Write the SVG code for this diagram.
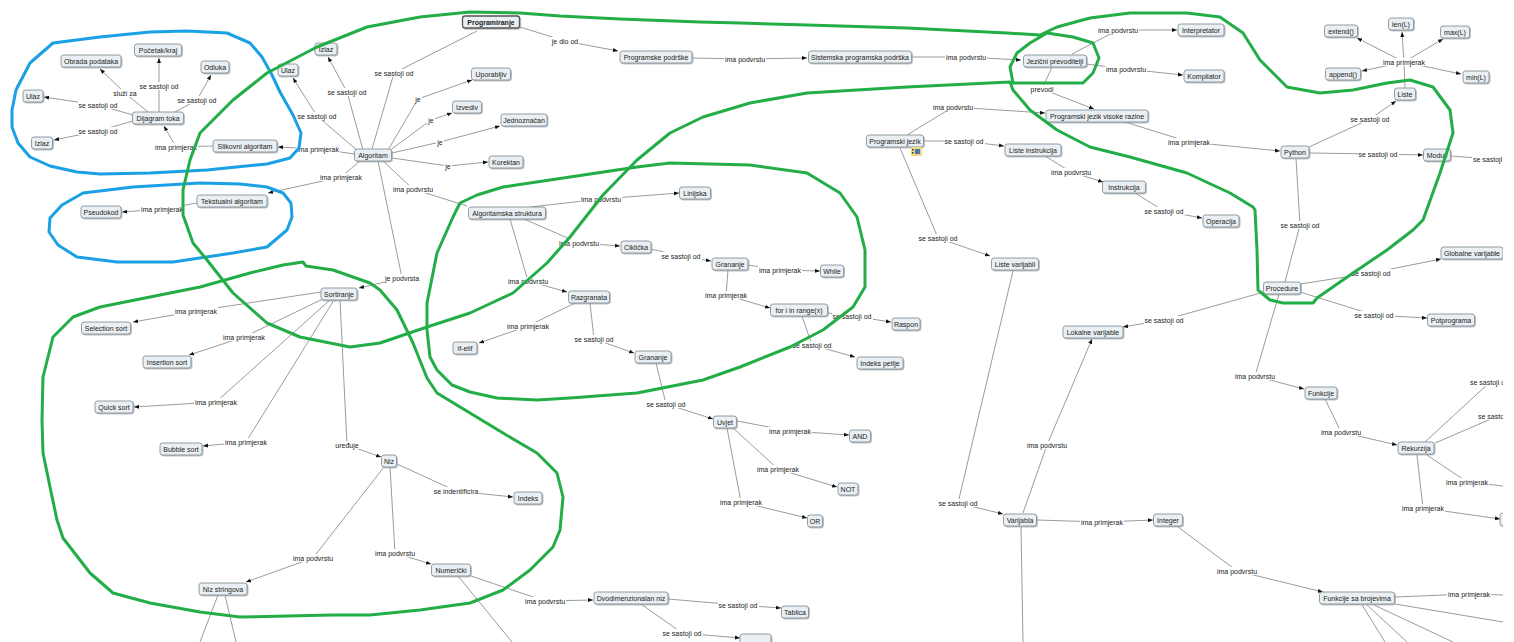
<svg xmlns="http://www.w3.org/2000/svg" width="1514" height="642" viewBox="0 0 1514 642">
<style>
  .n rect { fill: #e9eff2; stroke: #87929a; stroke-width: 0.9; filter: url(#sh); }
  .n text, .lb text { font-family: "Liberation Sans", Arial, sans-serif; font-size: 7px; fill: #222; text-anchor: middle; }
  .lb rect { fill: #fff; }
  .ln path { fill: none; stroke: #707070; stroke-width: 0.7; }
  .ln path.a { marker-end: url(#ah); }
  .loop { fill: none; stroke-width: 3; stroke-linejoin: round; stroke-linecap: round; }
  .g { stroke: #22ad47; }
  .b { stroke: #1aa0e4; }
  .bold text { font-weight: bold; }
  .bold rect { stroke: #555; stroke-width: 1.3; }
</style>
<defs>
  <marker id="ah" viewBox="0 0 10 10" refX="10" refY="5" markerWidth="5" markerHeight="5" orient="auto" markerUnits="userSpaceOnUse">
    <path d="M0,1 L10,5 L0,9 z" fill="#111"/>
  </marker>
  <filter id="sh" x="-10%" y="-20%" width="130%" height="160%">
    <feDropShadow dx="1" dy="1" stdDeviation="0.6" flood-color="#9aa0a4" flood-opacity="0.7"/>
  </filter>
  <clipPath id="frame"><rect x="0" y="0" width="1503" height="642"/></clipPath>
</defs>
<rect width="1514" height="642" fill="#fff"/>
<g clip-path="url(#frame)">

<g id="connectors">
 <g class="ln">
  <path d="M477,31 L394,73 L372,149"/>
  <path class="a" d="M520,27 L565,41 L618,51"/>
  <path class="a" d="M692,58 L745,59 L807,58"/>
  <path class="a" d="M912,57 L966,57 L1021,60"/>
  <path class="a" d="M1072,54 L1118,30 L1177,30"/>
  <path class="a" d="M1086,64 L1126,69 L1183,75"/>
  <path class="a" d="M1052,67 L1042,89 L1094,109"/>
  <path class="a" d="M907,135 L953,107 L1045,113"/>
  <path class="a" d="M923,141 L964,141 L1004,146"/>
  <path class="a" d="M1045,156 L1071,172 L1103,182"/>
  <path class="a" d="M1135,193 L1164,211 L1202,218"/>
  <path class="a" d="M1125,122 L1189,142 L1280,151"/>
  <path class="a" d="M1309,147 L1370,119 L1396,101"/>
  <path class="a" d="M1309,153 L1378,154 L1423,155"/>
  <path d="M1451,156 L1492,159"/>
  <path d="M1405,88 L1404,62"/>
  <path class="a" d="M1404,62 L1357,38"/>
  <path class="a" d="M1404,62 L1402,32"/>
  <path class="a" d="M1404,62 L1443,39"/>
  <path class="a" d="M1404,62 L1362,71"/>
  <path class="a" d="M1404,62 L1461,74"/>
  <path d="M1296,159 L1300,225 L1285,282"/>
  <path class="a" d="M1300,284 L1371,273 L1441,259"/>
  <path class="a" d="M1300,292 L1374,315 L1427,318"/>
  <path class="a" d="M1264,292 L1164,320 L1123,327"/>
  <path class="a" d="M1279,294 L1255,376 L1304,389"/>
  <path class="a" d="M1325,399 L1341,432 L1397,445"/>
  <path d="M1425,442 L1490,382"/>
  <path d="M1435,443 L1498,416"/>
  <path d="M1427,455 L1467,482 L1503,486"/>
  <path class="a" d="M1417,455 L1423,508 L1500,519"/>
  <path class="a" d="M900,148 L938,238 L990,256"/>
  <path class="a" d="M1013,271 L958,503 L1003,514"/>
  <path class="a" d="M1023,513 L1047,445 L1092,339"/>
  <path class="a" d="M1037,520 L1102,522 L1153,520"/>
  <path d="M1021,527 L1023,642"/>
  <path class="a" d="M1178,527 L1237,571 L1323,592"/>
  <path d="M1395,597 L1469,594 L1503,595"/>
  <path d="M1395,604 L1503,622 M1362,605 L1385,642 M1367,605 L1407,642 M1374,605 L1453,642"/>
  <path class="a" d="M363,150 L347,92 L328,57"/>
  <path class="a" d="M358,151 L317,116 L293,78"/>
  <path class="a" d="M355,154 L318,149 L278,147"/>
  <path class="a" d="M360,161 L341,177 L268,193"/>
  <path class="a" d="M213,146 L176,147 L164,126"/>
  <path class="a" d="M148,112 L125,93 L100,69"/>
  <path class="a" d="M159,112 L159,86 L159,58"/>
  <path class="a" d="M175,112 L197,100 L211,75"/>
  <path class="a" d="M133,115 L98,105 L44,97"/>
  <path class="a" d="M133,121 L98,131 L54,140"/>
  <path class="a" d="M197,203 L162,209 L122,212"/>
  <path class="a" d="M388,150 L418,99 L472,80"/>
  <path class="a" d="M389,151 L431,120 L452,113"/>
  <path class="a" d="M392,153 L440,142 L500,126"/>
  <path class="a" d="M392,158 L448,166 L488,162"/>
  <path d="M383,161 L413,189 L467,206"/>
  <path class="a" d="M378,161 L402,278 L359,288"/>
  <path class="a" d="M530,207 L601,199 L679,193"/>
  <path class="a" d="M524,219 L579,243 L620,246"/>
  <path class="a" d="M510,219 L528,281 L567,292"/>
  <path class="a" d="M651,249 L681,256 L711,261"/>
  <path class="a" d="M748,265 L780,270 L820,271"/>
  <path class="a" d="M728,270 L726,295 L770,308"/>
  <path class="a" d="M828,313 L852,316 L891,322"/>
  <path class="a" d="M802,316 L812,345 L855,357"/>
  <path class="a" d="M575,303 L528,326 L479,343"/>
  <path class="a" d="M590,303 L594,339 L634,353"/>
  <path class="a" d="M656,363 L666,404 L713,419"/>
  <path class="a" d="M737,421 L790,431 L849,435"/>
  <path class="a" d="M733,428 L778,469 L837,487"/>
  <path class="a" d="M727,428 L741,502 L807,518"/>
  <path class="a" d="M321,292 L196,311 L133,322"/>
  <path class="a" d="M325,298 L244,337 L189,355"/>
  <path class="a" d="M330,300 L216,402 L134,407"/>
  <path class="a" d="M334,300 L246,442 L203,446"/>
  <path class="a" d="M340,300 L347,445 L381,457"/>
  <path class="a" d="M397,464 L456,491 L513,497"/>
  <path class="a" d="M384,467 L313,558 L246,582"/>
  <path class="a" d="M390,467 L395,553 L431,564"/>
  <path class="a" d="M471,576 L545,601 L593,600"/>
  <path d="M458,576 L512,642"/>
  <path class="a" d="M668,599 L738,605 L781,608"/>
  <path class="a" d="M641,604 L682,633 L740,638"/>
  <path d="M218,595 L200,642 M225,595 L236,642"/>
 </g>
 <g class="lb">
  <rect x="374" y="69" width="41" height="8"/><text x="394" y="75.5">se sastoji od</text>
  <rect x="551" y="37" width="28" height="8"/><text x="565" y="43.5">je dio od</text>
  <rect x="724" y="55" width="42" height="8"/><text x="745" y="61.5">ima podvrstu</text>
  <rect x="945" y="53" width="42" height="8"/><text x="966" y="59.5">ima podvrstu</text>
  <rect x="1097" y="26" width="42" height="8"/><text x="1118" y="32.5">ima podvrstu</text>
  <rect x="1105" y="65" width="42" height="8"/><text x="1126" y="71.5">ima podvrstu</text>
  <rect x="1030" y="85" width="24" height="8"/><text x="1042" y="91.5">prevodi</text>
  <rect x="932" y="103" width="42" height="8"/><text x="953" y="109.5">ima podvrstu</text>
  <rect x="944" y="137" width="41" height="8"/><text x="964" y="143.5">se sastoji od</text>
  <rect x="1050" y="168" width="42" height="8"/><text x="1071" y="174.5">ima podvrstu</text>
  <rect x="1144" y="207" width="41" height="8"/><text x="1164" y="213.5">se sastoji od</text>
  <rect x="1167" y="138" width="44" height="8"/><text x="1189" y="144.5">ima primjerak</text>
  <rect x="1350" y="115" width="41" height="8"/><text x="1370" y="121.5">se sastoji od</text>
  <rect x="1358" y="150" width="41" height="8"/><text x="1378" y="156.5">se sastoji od</text>
  <rect x="1472" y="155" width="41" height="8"/><text x="1492.5" y="161.5">se sastoji od</text>
  <rect x="1382" y="58" width="44" height="8"/><text x="1404" y="64.5">ima primjerak</text>
  <rect x="1280" y="221" width="41" height="8"/><text x="1300" y="227.5">se sastoji od</text>
  <rect x="1351" y="269" width="41" height="8"/><text x="1371" y="275.5">se sastoji od</text>
  <rect x="1354" y="311" width="41" height="8"/><text x="1374" y="317.5">se sastoji od</text>
  <rect x="1144" y="316" width="41" height="8"/><text x="1164" y="322.5">se sastoji od</text>
  <rect x="1234" y="372" width="42" height="8"/><text x="1255" y="378.5">ima podvrstu</text>
  <rect x="1320" y="428" width="42" height="8"/><text x="1341" y="434.5">ima podvrstu</text>
  <rect x="1469" y="378" width="41" height="8"/><text x="1489.5" y="384.5">se sastoji od</text>
  <rect x="1477" y="412" width="41" height="8"/><text x="1497.5" y="418.5">se sastoji od</text>
  <rect x="1445" y="478" width="44" height="8"/><text x="1467" y="484.5">ima primjerak</text>
  <rect x="1401" y="504" width="44" height="8"/><text x="1423" y="510.5">ima primjerak</text>
  <rect x="918" y="234" width="41" height="8"/><text x="938" y="240.5">se sastoji od</text>
  <rect x="938" y="499" width="41" height="8"/><text x="958" y="505.5">se sastoji od</text>
  <rect x="1026" y="441" width="42" height="8"/><text x="1047" y="447.5">ima podvrstu</text>
  <rect x="1080" y="518" width="44" height="8"/><text x="1102" y="524.5">ima primjerak</text>
  <rect x="1216" y="567" width="42" height="8"/><text x="1237" y="573.5">ima podvrstu</text>
  <rect x="1447" y="590" width="44" height="8"/><text x="1469" y="596.5">ima primjerak</text>
  <rect x="327" y="88" width="41" height="8"/><text x="347" y="94.5">se sastoji od</text>
  <rect x="297" y="112" width="41" height="8"/><text x="317" y="118.5">se sastoji od</text>
  <rect x="296" y="145" width="44" height="8"/><text x="318" y="151.5">ima primjerak</text>
  <rect x="319" y="173" width="44" height="8"/><text x="341" y="179.5">ima primjerak</text>
  <rect x="154" y="143" width="44" height="8"/><text x="176" y="149.5">ima primjerak</text>
  <rect x="113" y="89" width="24" height="8"/><text x="125" y="95.5">služi za</text>
  <rect x="139" y="82" width="41" height="8"/><text x="159" y="88.5">se sastoji od</text>
  <rect x="177" y="96" width="41" height="8"/><text x="197" y="102.5">se sastoji od</text>
  <rect x="78" y="101" width="41" height="8"/><text x="98" y="107.5">se sastoji od</text>
  <rect x="78" y="127" width="41" height="8"/><text x="98" y="133.5">se sastoji od</text>
  <rect x="140" y="205" width="44" height="8"/><text x="162" y="211.5">ima primjerak</text>
  <rect x="414" y="95" width="8" height="8"/><text x="418" y="101.5">je</text>
  <rect x="427" y="116" width="8" height="8"/><text x="431" y="122.5">je</text>
  <rect x="436" y="138" width="8" height="8"/><text x="440" y="144.5">je</text>
  <rect x="444" y="162" width="8" height="8"/><text x="448" y="168.5">je</text>
  <rect x="392" y="185" width="42" height="8"/><text x="413" y="191.5">ima podvrstu</text>
  <rect x="384" y="274" width="36" height="8"/><text x="402" y="280.5">je podvrsta</text>
  <rect x="580" y="195" width="42" height="8"/><text x="601" y="201.5">ima podvrstu</text>
  <rect x="558" y="239" width="42" height="8"/><text x="579" y="245.5">ima podvrstu</text>
  <rect x="507" y="277" width="42" height="8"/><text x="528" y="283.5">ima podvrstu</text>
  <rect x="661" y="252" width="41" height="8"/><text x="681" y="258.5">se sastoji od</text>
  <rect x="758" y="266" width="44" height="8"/><text x="780" y="272.5">ima primjerak</text>
  <rect x="704" y="291" width="44" height="8"/><text x="726" y="297.5">ima primjerak</text>
  <rect x="832" y="312" width="41" height="8"/><text x="852" y="318.5">se sastoji od</text>
  <rect x="792" y="341" width="41" height="8"/><text x="812" y="347.5">se sastoji od</text>
  <rect x="506" y="322" width="44" height="8"/><text x="528" y="328.5">ima primjerak</text>
  <rect x="574" y="335" width="41" height="8"/><text x="594" y="341.5">se sastoji od</text>
  <rect x="646" y="400" width="41" height="8"/><text x="666" y="406.5">se sastoji od</text>
  <rect x="768" y="427" width="44" height="8"/><text x="790" y="433.5">ima primjerak</text>
  <rect x="756" y="465" width="44" height="8"/><text x="778" y="471.5">ima primjerak</text>
  <rect x="719" y="498" width="44" height="8"/><text x="741" y="504.5">ima primjerak</text>
  <rect x="174" y="307" width="44" height="8"/><text x="196" y="313.5">ima primjerak</text>
  <rect x="222" y="333" width="44" height="8"/><text x="244" y="339.5">ima primjerak</text>
  <rect x="194" y="398" width="44" height="8"/><text x="216" y="404.5">ima primjerak</text>
  <rect x="224" y="438" width="44" height="8"/><text x="246" y="444.5">ima primjerak</text>
  <rect x="335" y="441" width="24" height="8"/><text x="347" y="447.5">uređuje</text>
  <rect x="433" y="487" width="46" height="8"/><text x="456" y="493.5">se indentificira</text>
  <rect x="292" y="554" width="42" height="8"/><text x="313" y="560.5">ima podvrstu</text>
  <rect x="374" y="549" width="42" height="8"/><text x="395" y="555.5">ima podvrstu</text>
  <rect x="524" y="597" width="42" height="8"/><text x="545" y="603.5">ima podvrstu</text>
  <rect x="718" y="601" width="41" height="8"/><text x="738" y="607.5">se sastoji od</text>
  <rect x="662" y="629" width="41" height="8"/><text x="682" y="635.5">se sastoji od</text>
 </g>
</g>

<g id="nodes">
 <g id="n-programiranje" class="n bold"><rect x="462.5" y="16" width="57" height="12" rx="2.5"/><text x="491" y="24.5">Programiranje</text></g>
 <g id="n-programske" class="n"><rect x="620" y="51" width="72" height="12" rx="2.5"/><text x="656" y="59.5">Programske podrške</text></g>
 <g id="n-sistemska" class="n"><rect x="808.5" y="51" width="103" height="12" rx="2.5"/><text x="860" y="59.5">Sistemska programska podrška</text></g>
 <g id="n-jezicni" class="n"><rect x="1023.5" y="55" width="63" height="12" rx="2.5"/><text x="1055" y="63.5">Jezični prevoditelji</text></g>
 <g id="n-interpretator" class="n"><rect x="1178" y="24" width="46" height="12" rx="2.5"/><text x="1201" y="32.5">Interpretator</text></g>
 <g id="n-kompilator" class="n"><rect x="1184" y="70" width="40" height="12" rx="2.5"/><text x="1204" y="78.5">Kompilator</text></g>
 <g id="n-pjvr" class="n"><rect x="1046" y="110" width="102" height="12" rx="2.5"/><text x="1097" y="118.5">Programski jezik visoke razine</text></g>
 <g id="n-pj" class="n"><rect x="866.5" y="135" width="57" height="12" rx="2.5"/><text x="895" y="143.5">Programski jezik</text>
  <rect x="911" y="147" width="11" height="9" rx="1" style="fill:#f3d77c;stroke:none;filter:none"/><rect x="915" y="149" width="5" height="5" style="fill:#4a78b8;stroke:none;filter:none"/><rect x="912" y="149" width="1.5" height="1.5" style="fill:#333;stroke:none;filter:none"/><rect x="912" y="152" width="1.5" height="1.5" style="fill:#333;stroke:none;filter:none"/></g>
 <g id="n-listeinstr" class="n"><rect x="1005" y="144" width="56" height="12" rx="2.5"/><text x="1033" y="152.5">Liste instrukcija</text></g>
 <g id="n-instrukcija" class="n"><rect x="1102.5" y="181" width="43" height="12" rx="2.5"/><text x="1124" y="189.5">Instrukcija</text></g>
 <g id="n-operacija" class="n"><rect x="1203" y="215" width="36" height="12" rx="2.5"/><text x="1221" y="223.5">Operacija</text></g>
 <g id="n-python" class="n"><rect x="1281" y="146" width="28" height="12" rx="2.5"/><text x="1295" y="154.5">Python</text></g>
 <g id="n-moduli" class="n"><rect x="1423.5" y="149" width="27" height="12" rx="2.5"/><text x="1437" y="157.5">Moduli</text></g>
 <g id="n-liste" class="n"><rect x="1394.5" y="88" width="21" height="12" rx="2.5"/><text x="1405" y="96.5">Liste</text></g>
 <g id="n-extend" class="n"><rect x="1324.5" y="25" width="33" height="12" rx="2.5"/><text x="1341" y="33.5">extend()</text></g>
 <g id="n-len" class="n"><rect x="1388.5" y="18" width="25" height="12" rx="2.5"/><text x="1401" y="26.5">len(L)</text></g>
 <g id="n-max" class="n"><rect x="1440.5" y="26" width="29" height="12" rx="2.5"/><text x="1455" y="34.5">max(L)</text></g>
 <g id="n-append" class="n"><rect x="1325.5" y="68" width="35" height="12" rx="2.5"/><text x="1343" y="76.5">append()</text></g>
 <g id="n-min" class="n"><rect x="1463" y="71" width="26" height="12" rx="2.5"/><text x="1476" y="79.5">min(L)</text></g>
 <g id="n-obrada" class="n"><rect x="61" y="55" width="60" height="12" rx="2.5"/><text x="91" y="63.5">Obrada podataka</text></g>
 <g id="n-pocetak" class="n"><rect x="134.5" y="44" width="47" height="12" rx="2.5"/><text x="158" y="52.5">Početak/kraj</text></g>
 <g id="n-odluka" class="n"><rect x="201" y="61" width="28" height="12" rx="2.5"/><text x="215" y="69.5">Odluka</text></g>
 <g id="n-ulaz1" class="n"><rect x="23" y="90" width="20" height="12" rx="2.5"/><text x="33" y="98.5">Ulaz</text></g>
 <g id="n-dijagram" class="n"><rect x="132.5" y="112" width="51" height="12" rx="2.5"/><text x="158" y="120.5">Dijagram toka</text></g>
 <g id="n-izlaz1" class="n"><rect x="31.5" y="137" width="21" height="12" rx="2.5"/><text x="42" y="145.5">Izlaz</text></g>
 <g id="n-slikovni" class="n"><rect x="213" y="140" width="64" height="12" rx="2.5"/><text x="245" y="148.5">Slikovni algoritam</text></g>
 <g id="n-tekstualni" class="n"><rect x="197" y="195" width="70" height="12" rx="2.5"/><text x="232" y="203.5">Tekstualni algoritam</text></g>
 <g id="n-pseudokod" class="n"><rect x="81" y="206" width="40" height="12" rx="2.5"/><text x="101" y="214.5">Pseudokod</text></g>
 <g id="n-izlaz2" class="n"><rect x="315" y="43" width="22" height="12" rx="2.5"/><text x="326" y="51.5">Izlaz</text></g>
 <g id="n-ulaz2" class="n"><rect x="278" y="64" width="20" height="12" rx="2.5"/><text x="288" y="72.5">Ulaz</text></g>
 <g id="n-algoritam" class="n"><rect x="354.5" y="149" width="37" height="12" rx="2.5"/><text x="373" y="157.5">Algoritam</text></g>
 <g id="n-uporabljiv" class="n"><rect x="471.5" y="68" width="39" height="12" rx="2.5"/><text x="491" y="76.5">Uporabljiv</text></g>
 <g id="n-izvediv" class="n"><rect x="452.5" y="101" width="29" height="12" rx="2.5"/><text x="467" y="109.5">Izvediv</text></g>
 <g id="n-jednoznacan" class="n"><rect x="501" y="114" width="46" height="12" rx="2.5"/><text x="524" y="122.5">Jednoznačan</text></g>
 <g id="n-korektan" class="n"><rect x="489" y="156" width="34" height="12" rx="2.5"/><text x="506" y="164.5">Korektan</text></g>
 <g id="n-linijska" class="n"><rect x="679.5" y="187" width="31" height="12" rx="2.5"/><text x="695" y="195.5">Linijska</text></g>
 <g id="n-algstruktura" class="n"><rect x="468.5" y="207" width="77" height="12" rx="2.5"/><text x="507" y="215.5">Algoritamska struktura</text></g>
 <g id="n-ciklicka" class="n"><rect x="621" y="241" width="30" height="12" rx="2.5"/><text x="636" y="249.5">Ciklička</text></g>
 <g id="n-grananje1" class="n"><rect x="712" y="258" width="36" height="12" rx="2.5"/><text x="730" y="266.5">Grananje</text></g>
 <g id="n-while" class="n"><rect x="820.5" y="265" width="23" height="12" rx="2.5"/><text x="832" y="273.5">While</text></g>
 <g id="n-for" class="n"><rect x="770.5" y="304" width="57" height="12" rx="2.5"/><text x="799" y="312.5">for i in range(x)</text></g>
 <g id="n-raspon" class="n"><rect x="892" y="318" width="28" height="12" rx="2.5"/><text x="906" y="326.5">Raspon</text></g>
 <g id="n-indekspetlje" class="n"><rect x="857" y="357" width="46" height="12" rx="2.5"/><text x="880" y="365.5">Indeks petlje</text></g>
 <g id="n-razgranata" class="n"><rect x="568.5" y="291" width="41" height="12" rx="2.5"/><text x="589" y="299.5">Razgranata</text></g>
 <g id="n-ifelif" class="n"><rect x="453" y="342" width="24" height="12" rx="2.5"/><text x="465" y="350.5">if-elif</text></g>
 <g id="n-grananje2" class="n"><rect x="635" y="351" width="36" height="12" rx="2.5"/><text x="653" y="359.5">Grananje</text></g>
 <g id="n-uvjet" class="n"><rect x="713.5" y="416" width="23" height="12" rx="2.5"/><text x="725" y="424.5">Uvjet</text></g>
 <g id="n-and" class="n"><rect x="849.5" y="430" width="21" height="12" rx="2.5"/><text x="860" y="438.5">AND</text></g>
 <g id="n-not" class="n"><rect x="838" y="483" width="20" height="12" rx="2.5"/><text x="848" y="491.5">NOT</text></g>
 <g id="n-or" class="n"><rect x="807.5" y="515" width="15" height="12" rx="2.5"/><text x="815" y="523.5">OR</text></g>
 <g id="n-sortiranje" class="n"><rect x="321" y="288" width="36" height="12" rx="2.5"/><text x="339" y="296.5">Sortiranje</text></g>
 <g id="n-selection" class="n"><rect x="81.5" y="322" width="49" height="12" rx="2.5"/><text x="106" y="330.5">Selection sort</text></g>
 <g id="n-insertion" class="n"><rect x="143" y="356" width="48" height="12" rx="2.5"/><text x="167" y="364.5">Insertion sort</text></g>
 <g id="n-quick" class="n"><rect x="95" y="401" width="38" height="12" rx="2.5"/><text x="114" y="409.5">Quick sort</text></g>
 <g id="n-bubble" class="n"><rect x="160" y="443" width="42" height="12" rx="2.5"/><text x="181" y="451.5">Bubble sort</text></g>
 <g id="n-niz" class="n"><rect x="381.5" y="455" width="15" height="12" rx="2.5"/><text x="389" y="463.5">Niz</text></g>
 <g id="n-indeks" class="n"><rect x="514" y="492" width="28" height="12" rx="2.5"/><text x="528" y="500.5">Indeks</text></g>
 <g id="n-nizstringova" class="n"><rect x="199" y="583" width="48" height="12" rx="2.5"/><text x="223" y="591.5">Niz stringova</text></g>
 <g id="n-numericki" class="n"><rect x="431.5" y="564" width="39" height="12" rx="2.5"/><text x="451" y="572.5">Numerički</text></g>
 <g id="n-dvodim" class="n"><rect x="594" y="592" width="74" height="12" rx="2.5"/><text x="631" y="600.5">Dvodimenzionalan niz</text></g>
 <g id="n-tablica" class="n"><rect x="781.5" y="606" width="27" height="12" rx="2.5"/><text x="795" y="614.5">Tablica</text></g>
 <g id="n-bottom" class="n"><rect x="740" y="634" width="31" height="12" rx="2.5"/></g>
 <g id="n-listevar" class="n"><rect x="991.5" y="258" width="47" height="12" rx="2.5"/><text x="1015" y="266.5">Liste varijabli</text></g>
 <g id="n-lokalne" class="n"><rect x="1063" y="326" width="60" height="12" rx="2.5"/><text x="1093" y="334.5">Lokalne varijable</text></g>
 <g id="n-procedure" class="n"><rect x="1263.5" y="282" width="37" height="12" rx="2.5"/><text x="1282" y="290.5">Procedure</text></g>
 <g id="n-globalne" class="n"><rect x="1441" y="247" width="62" height="12" rx="2.5"/><text x="1472" y="255.5">Globalne varijable</text></g>
 <g id="n-potprograma" class="n"><rect x="1427.5" y="314" width="47" height="12" rx="2.5"/><text x="1451" y="322.5">Potprograma</text></g>
 <g id="n-funkcije" class="n"><rect x="1305" y="387" width="32" height="12" rx="2.5"/><text x="1321" y="395.5">Funkcije</text></g>
 <g id="n-rekurzija" class="n"><rect x="1398" y="442" width="36" height="12" rx="2.5"/><text x="1416" y="450.5">Rekurzija</text></g>
 <g id="n-varijabla" class="n"><rect x="1003.5" y="514" width="33" height="12" rx="2.5"/><text x="1020" y="522.5">Varijabla</text></g>
 <g id="n-integer" class="n"><rect x="1153.5" y="514" width="29" height="12" rx="2.5"/><text x="1168" y="522.5">Integer</text></g>
 <g id="n-fsb" class="n"><rect x="1319.5" y="592" width="75" height="12" rx="2.5"/><text x="1357" y="600.5">Funkcije sa brojevima</text></g>
 <g id="n-rightbox" class="n"><rect x="1500" y="513" width="30" height="13" rx="2.5"/></g>
</g>

<g id="outlines">
 <path class="loop b" d="M53,43 L100,37 L150,32 L187,31 L227,33 L250,43 L262,57 L272,75 L280,92 L293,115 L301,133 L299,148 L290,158 L267,164 L207,170 L150,173 L100,174 L77,172 L50,166 L30,157 L18,143 L12,127 L12,110 L16,90 L30,63 Z"/>
 <path class="loop b" d="M50,218 L62,205 L83,193 L133,187 L200,183 L240,184 L267,187 L283,193 L291,203 L292,217 L287,230 L267,247 L233,253 L173,262 L117,262 L77,257 L58,245 L49,232 Z"/>
 <path class="loop g" d="M183,215 L183,190 L190,160 L200,133 L233,100 L267,73 L317,47 L367,27 L420,17 L470,12 L520,13 L560,16 L620,19 L700,22 L740,23 L807,25 L907,28 L1007,33 L1040,35 L1057,27 L1090,18 L1130,13 L1187,13 L1220,17 L1243,33 L1260,60 L1287,87 L1320,93 L1353,90 L1387,83 L1410,80 L1433,87 L1450,110 L1453,133 L1440,173 L1423,220 L1413,230 L1387,250 L1353,273 L1317,298 L1313,303 L1283,303 L1270,300 L1258,290 L1257,250 L1255,210 L1253,207 L1230,193 L1187,173 L1130,157 L1090,147 L1057,130 L1030,110 L1013,90 L1010,82 L907,87 L807,93 L750,103 L703,117 L670,133 L637,160 L603,195 L570,237 L547,263 L513,293 L470,313 L427,327 L380,343 L350,347 L300,337 L267,323 L233,293 L207,260 L193,243 Z"/>
 <path class="loop g" d="M460,203 L477,195 L503,187 L570,177 L637,167 L670,163 L750,165 L807,173 L840,193 L857,217 L865,250 L865,287 L853,307 L823,330 L790,347 L740,367 L703,380 L637,393 L570,398 L537,400 L497,398 L470,392 L452,385 L437,370 L430,357 L427,330 L427,303 L437,253 L453,217 Z"/>
 <path class="loop g" d="M73,317 L100,307 L150,297 L200,287 L250,273 L283,265 L303,262 L306,266 L333,270 L370,283 L380,290 L397,310 L413,343 L427,378 L437,393 L470,413 L503,433 L537,453 L557,473 L563,497 L560,530 L553,547 L530,570 L503,590 L470,603 L420,610 L370,615 L333,615 L240,617 L200,612 L150,603 L113,593 L90,573 L63,538 L57,520 L50,487 L43,453 L42,420 L43,377 L53,337 Z"/>
 <path class="loop g" d="M1013,83 L1010,67 L1017,53 L1030,43 L1047,33 L1073,37 L1093,43 L1099,58 L1093,73 L1083,83 Z"/>
</g>
</g>
</svg>
